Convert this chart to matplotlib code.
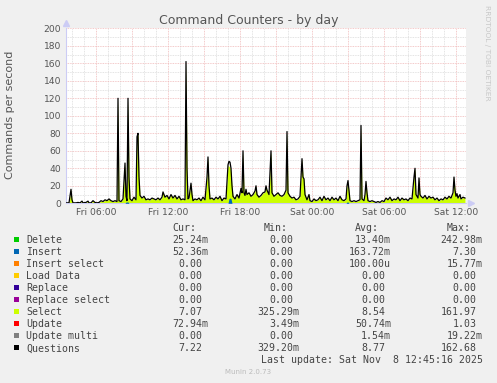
import matplotlib
matplotlib.use("Agg")
import matplotlib.pyplot as plt
from matplotlib.patches import Rectangle
import numpy as np

# time in minutes since Fri 00:00 (5 minute samples)
t_min = [210, 225, 230, 235, 240, 245, 260, 270, 280, 290, 295, 310, 320, 325, 335, 345, 355, 365, 375, 385,
         395, 405, 415, 425, 435, 445, 455, 465, 470, 475, 485, 495, 505, 510, 515, 520, 525, 530, 540, 550,
         560, 565, 570, 575, 580, 590, 600, 610, 620, 630, 640, 650, 660, 670, 680, 690, 695, 705, 715, 725,
         735, 745, 755, 765, 775, 785, 795, 805, 810, 815, 820, 825, 830, 835, 840, 845, 855, 865, 875, 885,
         895, 905, 915, 920, 925, 930, 940, 950, 960, 970, 980, 990, 1000, 1010, 1020, 1025, 1030, 1035, 1040, 1045,
         1055, 1065, 1075, 1085, 1090, 1095, 1100, 1105, 1110, 1115, 1125, 1135, 1145, 1155, 1160, 1165, 1175, 1185, 1195, 1205,
         1210, 1215, 1225, 1230, 1235, 1240, 1250, 1260, 1270, 1280, 1290, 1300, 1310, 1315, 1320, 1330, 1340, 1350, 1360, 1370,
         1380, 1390, 1395, 1400, 1405, 1415, 1425, 1430, 1440, 1450, 1460, 1470, 1480, 1490, 1500, 1510, 1520, 1530, 1540, 1550,
         1560, 1570, 1580, 1590, 1600, 1610, 1615, 1620, 1625, 1630, 1640, 1650, 1660, 1670, 1680, 1685, 1690, 1700, 1705, 1710,
         1715, 1720, 1730, 1740, 1750, 1760, 1770, 1780, 1790, 1800, 1810, 1820, 1830, 1840, 1850, 1860, 1870, 1880, 1890, 1900,
         1910, 1920, 1930, 1940, 1950, 1955, 1960, 1970, 1975, 1980, 1985, 1995, 2005, 2015, 2025, 2035, 2045, 2055, 2065, 2075,
         2085, 2095, 2105, 2115, 2125, 2135, 2145, 2150, 2155, 2160, 2165, 2170, 2180, 2185, 2195, 2205]

questions = [0.5, 0.5, 8, 16, 4, 0.5, 0.5, 1, 0.5, 2.5, 0.5, 1, 2.5, 0.5, 0.5, 3, 1, 0.5, 1, 3,
             2, 4, 3, 5, 3, 2, 3, 2, 120, 3, 2, 5, 46, 8, 3, 120, 30, 5, 3, 7,
             4, 76, 80, 30, 9, 6, 8, 4, 5, 4, 6, 5, 4, 6, 4, 7, 13, 7, 9, 5,
             10, 6, 9, 5, 8, 4, 5, 4, 162, 40, 5, 6, 15, 23, 10, 3, 5, 4, 6, 3,
             7, 4, 30, 53, 20, 5, 6, 4, 7, 5, 8, 3, 6, 5, 44, 48, 47, 40, 20, 8,
             5, 10, 6, 17, 12, 60, 12, 9, 16, 10, 12, 8, 10, 14, 20, 10, 7, 9, 12, 13,
             20, 15, 10, 35, 60, 12, 8, 10, 12, 9, 8, 10, 15, 82, 12, 8, 6, 7, 4, 5,
             8, 51, 30, 28, 10, 4, 10, 3, 2, 5, 3, 4, 7, 3, 8, 4, 6, 3, 7, 4,
             6, 3, 8, 4, 3, 5, 20, 26, 15, 3, 2, 3, 2, 3, 4, 89, 5, 3, 10, 25,
             12, 3, 2, 3, 2, 1, 2, 1, 3, 2, 6, 4, 7, 3, 5, 4, 7, 3, 6, 4,
             5, 3, 6, 5, 30, 40, 10, 6, 29, 10, 8, 6, 9, 5, 8, 6, 7, 4, 6, 3,
             5, 4, 7, 5, 8, 6, 12, 30, 15, 8, 11, 6, 10, 5, 7, 6]

select = [0.4, 0.4, 7.8, 15.8, 3.8, 0.4, 0.4, 0.9, 0.4, 2.4, 0.4, 0.9, 2.4, 0.4, 0.4, 2.9, 0.9, 0.4, 0.9, 2.9,
          1.9, 3.9, 2.9, 4.9, 2.9, 1.9, 2.9, 1.9, 119.8, 2.9, 1.9, 4.9, 44.5, 6.5, 1.5, 118.5, 29.8, 4.9, 2.9, 6.9,
          3.9, 75.8, 79.8, 29.8, 8.8, 5.8, 7.8, 3.8, 4.8, 3.8, 5.8, 4.8, 3.8, 5.8, 3.8, 6.8, 12.8, 6.8, 8.8, 4.8,
          9.8, 5.8, 8.8, 4.8, 7.8, 3.8, 4.8, 3.8, 161.8, 39.8, 4.8, 5.8, 14.8, 22.8, 9.8, 2.8, 4.8, 3.8, 5.8, 2.8,
          6.8, 3.8, 29.8, 52.8, 19.8, 4.8, 5.8, 3.8, 6.8, 4.8, 7.8, 2.8, 5.8, 4.8, 43.8, 42.3, 40.8, 34.3, 19.8, 7.8,
          4.8, 9.8, 5.8, 16.8, 11.8, 59.8, 11.8, 8.8, 15.8, 9.8, 11.8, 7.8, 9.8, 13.8, 19.8, 9.8, 6.8, 8.8, 11.8, 12.8,
          19.8, 14.8, 9.8, 34.8, 59.8, 11.8, 7.8, 9.8, 11.8, 8.8, 7.8, 9.8, 14.8, 81.8, 11.8, 7.8, 5.8, 6.8, 3.8, 4.8,
          7.8, 50.8, 29.8, 27.8, 9.8, 3.8, 9.8, 2.8, 1.8, 4.8, 2.8, 3.8, 6.8, 2.8, 7.8, 3.8, 5.8, 2.8, 6.8, 3.8,
          5.8, 2.8, 7.8, 3.8, 2.8, 4.8, 19.8, 24.3, 14.8, 2.8, 1.8, 2.8, 1.8, 2.8, 3.8, 88.8, 4.8, 2.8, 9.8, 24.8,
          11.8, 2.8, 1.8, 2.8, 1.8, 0.8, 1.8, 0.8, 2.8, 1.8, 5.8, 3.8, 6.8, 2.8, 4.8, 3.8, 6.8, 2.8, 5.8, 3.8,
          4.8, 2.8, 5.8, 4.8, 29.8, 39.8, 9.8, 5.8, 28.8, 9.8, 7.8, 5.8, 8.8, 4.8, 7.8, 5.8, 6.8, 3.8, 5.8, 2.8,
          4.8, 3.8, 6.8, 4.8, 7.8, 5.8, 11.8, 29.8, 14.8, 7.8, 10.8, 5.8, 9.8, 4.8, 6.8, 5.8]

insert_t = [210, 505, 510, 520, 525, 1020, 1025, 1030, 1035, 1040, 1610, 1615, 1620, 1625, 1630, 2205]
insert = [0, 0, 1.5, 1.5, 0, 0, 5.5, 6.0, 5.5, 0, 0, 1.5, 1.5, 0, 0, 0]

xtick_min = [360, 720, 1080, 1440, 1800, 2160]
xtick_labels = ["Fri 06:00", "Fri 12:00", "Fri 18:00", "Sat 00:00", "Sat 06:00", "Sat 12:00"]

names = ["Delete", "Insert", "Insert select", "Load Data", "Replace", "Replace select",
         "Select", "Update", "Update multi", "Questions"]
colors = ["#00CC00", "#0066B3", "#FF8000", "#FFCC00", "#330099", "#990099",
          "#CCFF00", "#FF0000", "#808080", "#000000"]
cur = ["25.24m", "52.36m", "0.00", "0.00", "0.00", "0.00", "7.07", "72.94m", "0.00", "7.22"]
mins = ["0.00", "0.00", "0.00", "0.00", "0.00", "0.00", "325.29m", "3.49m", "0.00", "329.20m"]
avgs = ["13.40m", "163.72m", "100.00u", "0.00", "0.00", "0.00", "8.54", "50.74m", "1.54m", "8.77"]
maxs = ["242.98m", "7.30", "15.77m", "0.00", "0.00", "0.00", "161.97", "1.03", "19.22m", "162.68"]

assert len(t_min) == len(questions) == len(select)

W, H = 497, 383
def fx(x): return x / W
def fy(y): return 1 - y / H

fig = plt.figure(figsize=(W / 100, H / 100), dpi=100, facecolor="#F0F0F0")
ax = fig.add_axes([fx(66), fy(203.3), 400 / W, 175 / H])
ax.set_facecolor("white")

ax.fill_between(t_min, 0, select, color="#CCFF00", linewidth=0, zorder=2)
ax.fill_between(insert_t, 0, insert, color="#0066B3", linewidth=0, zorder=3)
ax.plot(t_min, questions, color="black", linewidth=0.9, zorder=4)

ax.set_xlim(210, 2210)
ax.set_ylim(0, 200)
ax.set_xticks(np.arange(360, 2210, 180))
ax.set_xticks(np.arange(240, 2210, 60), minor=True)
ax.set_xticklabels([xtick_labels[xtick_min.index(t)] if t in xtick_min else "" for t in np.arange(360, 2210, 180)])
ax.set_yticks(np.arange(0, 201, 20))
ax.set_yticks(np.arange(10, 200, 20), minor=True)
ax.tick_params(which="both", length=0, labelsize=6.6, labelcolor="#555555")
ax.tick_params(axis="y", pad=3.6)
ax.tick_params(axis="x", pad=3.5)
ax.set_axisbelow(True)
ax.grid(which="major", color="#F0B8B8", linestyle=(0, (1, 1)), linewidth=0.6)
ax.grid(which="minor", color="#DADADA", linestyle=(0, (1, 1)), linewidth=0.6)
for s in ["top", "right"]:
    ax.spines[s].set_visible(False)
ax.spines["left"].set_color("#CCCCF5")
ax.spines["bottom"].set_color("#CCCCF5")
ax.spines["left"].set_linewidth(0.8)
ax.spines["bottom"].set_linewidth(0.8)
ax.plot([0], [1.03], marker="^", color="#CCCCF5", markersize=4, transform=ax.transAxes, clip_on=False)
ax.plot([1.012], [0], marker=">", color="#CCCCF5", markersize=4, transform=ax.transAxes, clip_on=False)

fig.text(fx(10), fy(114.7), "Commands per second", fontsize=8, color="#555555",
         rotation=90, ha="center", va="center")
fig.text(fx(248.5), fy(23.6), "Command Counters - by day", fontsize=9, color="#555555",
         ha="center", va="baseline")
fig.text(fx(487.5), fy(53), "RRDTOOL / TOBI OETIKER", fontsize=5.4, color="#C8C8C8",
         rotation=270, ha="center", va="center")

mono = "DejaVu Sans Mono"
fs = 7.1
cw = 5.95  # monospace char width in pixels
def row_text(x, y, s, ha="left"):
    fig.text(fx(x), fy(y + 3.6), s, fontsize=fs, family=mono, color="#444444", ha=ha, va="baseline")

def value_text(x_end, y, s):
    # number right-aligned at x_end, unit suffix in the next character cell
    if s[-1].isalpha():
        row_text(x_end + cw, y, s, ha="right")
    else:
        row_text(x_end, y, s, ha="right")

row_text(172.3, 227.7, "Cur:")
row_text(264.0, 227.7, "Min:")
row_text(355.0, 227.7, "Avg:")
row_text(446.7, 227.7, "Max:")

for i, name in enumerate(names):
    y = 239.7 + 12 * i
    fig.patches.append(Rectangle((fx(14), fy(y + 2.7)), 5.4 / W, 5.4 / H, transform=fig.transFigure,
                                 facecolor=colors[i], edgecolor="none"))
    row_text(26, y, name)
    value_text(202.0, y, cur[i])
    value_text(293.5, y, mins[i])
    value_text(385.0, y, avgs[i])
    value_text(476.7, y, maxs[i])

row_text(482.7, 359.7, "Last update: Sat Nov  8 12:45:16 2025", ha="right")
fig.text(fx(248.3), fy(372.3), "Munin 2.0.73", fontsize=5, color="#BBBBBB", ha="center", va="center")

fig.savefig("out.png", dpi=100, facecolor=fig.get_facecolor())
